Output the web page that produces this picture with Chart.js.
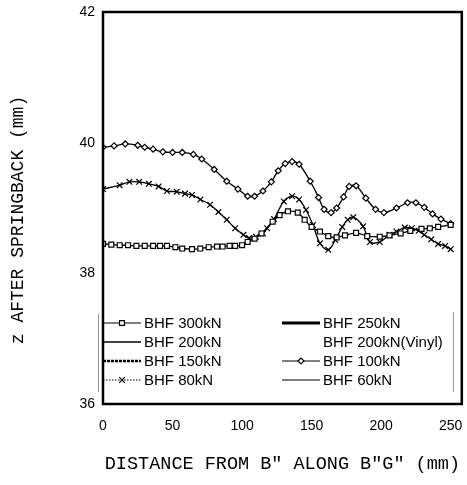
<!DOCTYPE html>
<html>
<head>
<meta charset="utf-8">
<script src="https://cdn.jsdelivr.net/npm/chart.js@4.4.0/dist/chart.umd.min.js"></script>
<style>
  html, body { margin: 0; padding: 0; background: #fff; }
</style>
</head>
<body>
<canvas id="chart" width="467" height="485"></canvas>
<script>
// Values: x = distance (mm), z = z after springback (mm)
const xTicks = [0, 50, 100, 150, 200, 250];
const yTicks = [36, 38, 40, 42];

const x300 = [0, 6, 12, 18, 24, 30, 36, 41, 46, 52, 57, 64, 70, 76, 82, 86, 91, 95, 100, 104,
              109, 114, 122, 127, 133, 140, 145, 150, 156, 162, 168, 174, 182, 190, 199, 206, 214, 221, 229, 235,
              241, 250];
const z300 = [38.45, 38.44, 38.43, 38.43, 38.42, 38.42, 38.42, 38.42, 38.42, 38.40,
              38.38, 38.37, 38.38, 38.40, 38.41, 38.41, 38.42, 38.42, 38.43, 38.48,
              38.53, 38.61, 38.79, 38.89, 38.95, 38.93, 38.82, 38.71, 38.64, 38.57,
              38.55, 38.58, 38.62, 38.57, 38.56, 38.58, 38.61, 38.65, 38.68, 38.69,
              38.71, 38.74];

const x100 = [0, 8, 16, 25, 30, 36, 43, 50, 57, 65, 71, 80, 89, 97, 104, 109, 115, 121, 126, 131,
              136, 141, 149, 155, 159, 164, 168, 173, 177, 182, 189, 196, 202, 211, 219, 225, 231, 237, 243, 250];
const z100 = [39.93, 39.95, 39.98, 39.96, 39.93, 39.90, 39.86, 39.85, 39.85, 39.82,
              39.75, 39.59, 39.41, 39.29, 39.18, 39.18, 39.26, 39.40, 39.57, 39.68,
              39.71, 39.67, 39.41, 39.16, 38.98, 38.93, 39.00, 39.17, 39.33, 39.34,
              39.15, 38.98, 38.93, 39.00, 39.08, 39.08, 39.01, 38.91, 38.83, 38.76];

const x80 = [0, 12, 19, 26, 33, 40, 46, 53, 59, 64, 70, 77, 83, 89, 95, 101, 105, 110, 115, 118,
             123, 130, 136, 141, 146, 151, 156, 162, 167, 172, 176, 180, 187, 192, 199, 206, 211, 217, 222, 227,
             231, 236, 241, 246, 250];
const z80 = [39.29, 39.35, 39.40, 39.40, 39.37, 39.33, 39.26, 39.25, 39.22, 39.20,
             39.13, 39.05, 38.94, 38.82, 38.69, 38.59, 38.54, 38.56, 38.61, 38.69,
             38.83, 39.10, 39.18, 39.13, 38.97, 38.74, 38.46, 38.36, 38.51, 38.71,
             38.82, 38.86, 38.72, 38.48, 38.48, 38.59, 38.64, 38.70, 38.69, 38.65,
             38.59, 38.52, 38.45, 38.42, 38.37];

const seriesNames = ['BHF 300kN', 'BHF 250kN', 'BHF 200kN', 'BHF 200kN(Vinyl)',
                     'BHF 150kN', 'BHF 100kN', 'BHF 80kN', 'BHF 60kN'];

const yTitle = 'z AFTER SPRINGBACK (mm)';

function pts(xs, zs) {
    return xs.map((x, i) => ({ x: x, y: zs[i] }));
}

// line samples for the legend (only three series show up on the plot)
const styles = [
    { data: pts(x300, z300), marker: 'rect', radius: 3.5, lw: 1.2, dash: [] },
    { data: [], marker: false, lw: 3, dash: [] },
    { data: [], marker: false, lw: 1.6, dash: [] },
    { data: [], marker: false, lw: 0, dash: [] },
    { data: [], marker: false, lw: 2.6, dash: [3, 1] },
    { data: pts(x100, z100), marker: 'rectRot', radius: 3, lw: 1.2, dash: [] },
    { data: pts(x80, z80), marker: 'crossRot', radius: 4, lw: 1.2, dash: [1.5, 1.5] },
    { data: [], marker: false, lw: 1, dash: [] }
];

const datasets = seriesNames.map((name, i) => {
    const s = styles[i];
    return {
        label: name,
        data: s.data,
        borderColor: '#000',
        borderWidth: 1.3,
        tension: 0.35,
        pointStyle: s.marker,
        pointRadius: s.marker ? s.radius : 0,
        pointBackgroundColor: '#fff',
        pointBorderColor: '#000',
        pointBorderWidth: 1.2,
        legendLw: s.lw,
        legendDash: s.dash
    };
});

// frame round the plot area + y title (sits a bit below the plot centre in the original)
const framePlugin = {
    id: 'frame',
    afterDraw(chart) {
        const { ctx, chartArea: a } = chart;
        ctx.save();
        ctx.strokeStyle = '#000';
        ctx.lineWidth = 2.5;
        ctx.strokeRect(a.left, a.top, a.right - a.left, a.bottom - a.top);

        ctx.translate(18, (a.top + a.bottom) / 2 + 12);
        ctx.rotate(-Math.PI / 2);
        ctx.font = '18px "Liberation Mono", monospace';
        ctx.fillStyle = '#000';
        ctx.textAlign = 'center';
        ctx.textBaseline = 'middle';
        ctx.fillText(yTitle, 0, 0);
        ctx.restore();
    }
};

// two-column legend inside the plot
const legendPlugin = {
    id: 'insideLegend',
    afterDraw(chart) {
        const ctx = chart.ctx;
        const cols = [103, 282];
        const rowY = [323, 342, 361, 380];
        ctx.save();
        // faint side rules of the legend box
        ctx.strokeStyle = '#999';
        ctx.lineWidth = 1;
        ctx.beginPath();
        ctx.moveTo(98.5, 314); ctx.lineTo(98.5, 392);
        ctx.moveTo(453.5, 312); ctx.lineTo(453.5, 392);
        ctx.stroke();

        ctx.font = '15px "Liberation Sans", Arial, sans-serif';
        ctx.textBaseline = 'middle';
        ctx.fillStyle = '#000';
        chart.data.datasets.forEach((ds, i) => {
            const x0 = cols[i % 2];
            const y = rowY[Math.floor(i / 2)];
            if (ds.legendLw > 0) {
                ctx.strokeStyle = '#000';
                ctx.lineWidth = ds.legendLw;
                ctx.setLineDash(ds.legendDash);
                ctx.beginPath();
                ctx.moveTo(x0, y);
                ctx.lineTo(x0 + 38, y);
                ctx.stroke();
                ctx.setLineDash([]);
            }
            if (ds.pointStyle) {
                ctx.lineWidth = 1.2;
                ctx.strokeStyle = '#000';
                ctx.fillStyle = '#fff';
                Chart.helpers.drawPoint(ctx, {
                    pointStyle: ds.pointStyle, radius: ds.pointRadius, borderWidth: 1.2
                }, x0 + 19, y);
                ctx.fillStyle = '#000';
            }
            ctx.fillText(ds.label, x0 + 41, y + 1);
        });
        ctx.restore();
    }
};

new Chart(document.getElementById('chart'), {
    type: 'line',
    data: { datasets: datasets },
    options: {
        responsive: false,
        animation: false,
        layout: { padding: { top: 12, right: 4, left: 0, bottom: 0 } },
        plugins: {
            legend: { display: false },
            tooltip: { enabled: false }
        },
        scales: {
            x: {
                type: 'linear',
                min: 0,
                max: 258,
                afterFit: (s) => {
                    s.height = 81;
                    // keep the plot edge fixed, labels may hang over it
                    s.paddingLeft = 0;
                    s.paddingRight = 0;
                },
                afterBuildTicks: (s) => { s.ticks = xTicks.map(v => ({ value: v })); },
                grid: { display: false, drawTicks: false },
                border: { display: false },
                ticks: {
                    color: '#000',
                    padding: 14,
                    maxRotation: 0,
                    font: { family: '"Liberation Sans", Arial, sans-serif', size: 14 }
                },
                title: {
                    display: true,
                    text: 'DISTANCE FROM B" ALONG B"G" (mm)',
                    color: '#000',
                    padding: { top: 0, bottom: 10 },
                    font: { family: '"Liberation Mono", monospace', size: 18.5 }
                }
            },
            y: {
                min: 36,
                max: 42,
                afterFit: (s) => {
                    s.width = 103;
                    s.paddingTop = 0;
                    s.paddingBottom = 0;
                },
                afterBuildTicks: (s) => { s.ticks = yTicks.map(v => ({ value: v })); },
                grid: { display: false, drawTicks: false },
                border: { display: false },
                ticks: {
                    color: '#000',
                    padding: 8,
                    font: { family: '"Liberation Sans", Arial, sans-serif', size: 14 }
                }
            }
        }
    },
    plugins: [framePlugin, legendPlugin]
});
</script>
</body>
</html>
